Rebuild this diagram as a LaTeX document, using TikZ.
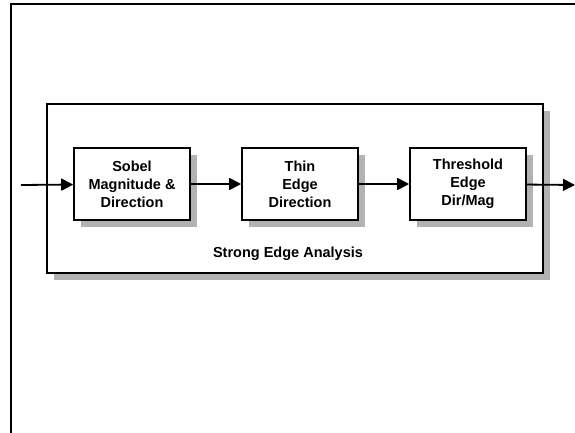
\documentclass[tikz,border=0pt]{standalone}
\usepackage{fontspec}
\setmainfont{Liberation Sans}
\usetikzlibrary{arrows.meta,shadows}

\tikzset{
  blockbox/.style={draw, line width=1.6pt, fill=white, minimum width=116, minimum height=72,
    align=center, font=\fontsize{14.5}{18}\selectfont\bfseries,
    drop shadow={shadow xshift=7pt, shadow yshift=-7pt, opacity=1, fill=gray!60}},
  flow/.style={line width=1.8pt, -{Triangle[length=12pt,width=12pt]}}
}

\begin{document}
\begin{tikzpicture}[x=1pt,y=-1pt]
			\useasboundingbox (0,0) rectangle (575,433);
			\draw[line width=1.4pt] (10,4) -- (575,4);
			\draw[line width=1.4pt] (11,4) -- (11,433);
			\node[blockbox, minimum width=496, minimum height=169] (group) at (295,188.5) {};
			\node[blockbox] (sobel) at (132,184) {Sobel\\Magnitude \&\\Direction};
			\node[blockbox] (thin) at (300,184) {Thin\\Edge\\Direction};
			\node[blockbox] (thresh) at (468,184) {Threshold\\Edge\\Dir/Mag};
			\node[font=\fontsize{14.5}{16}\selectfont\bfseries] (label) at (288,254) {Strong Edge Analysis};
			\coordinate (in) at (21,185);
			\coordinate (out) at (575,185);
			\draw[flow] (in) -- (sobel);
			\draw[flow] (sobel) -- (thin);
			\draw[flow] (thin) -- (thresh);
			\draw[flow] (thresh) -- (out);
			\end{tikzpicture}
\end{document}
